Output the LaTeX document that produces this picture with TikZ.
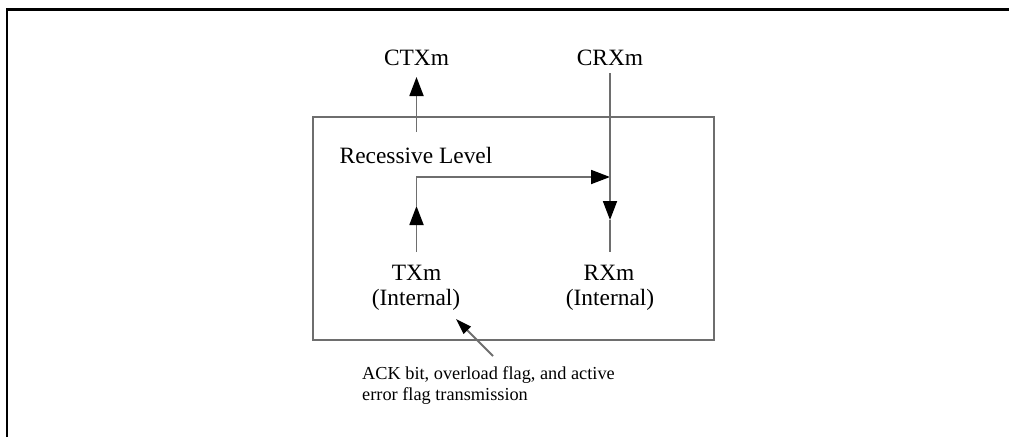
\documentclass[tikz,border=0pt]{standalone}
\usepackage{fontspec}
\setmainfont{Liberation Serif}
\usetikzlibrary{arrows.meta}
\definecolor{wiregray}{HTML}{6E6E6E}
\begin{document}
\begin{tikzpicture}[x=1pt,y=-1pt,
  frame/.style={draw=black,line width=2.5pt},
  wire/.style={draw=wiregray,line width=1.8pt},
  head/.tip={Triangle[length=19pt,width=14pt,color=black]},
  smallhead/.tip={Triangle[length=16pt,width=10pt,color=black]},
  lbl/.style={inner sep=0pt,font=\fontsize{23.4}{28}\selectfont},
  note/.style={inner sep=0pt,align=left,font=\fontsize{18.3}{21.5}\selectfont}]
\useasboundingbox (0,0) rectangle (1009,437);

% outer frame (open on the right and bottom)
\draw[frame] (7,437) -- (7,9.5) -- (1009,9.5);

% block outline
\node[draw=wiregray,line width=1.8pt,minimum width=401pt,minimum height=223pt,inner sep=0pt]
  (blk) at (513.5,228.5) {};

% labels
\node[lbl,anchor=base] (ctx) at (416.5,65) {CTXm};
\node[lbl,anchor=base] (crx) at (610,65) {CRXm};
\node[lbl,anchor=base] (rec) at (416,163) {Recessive Level};
\node[lbl,anchor=base] (tx)  at (416.5,280) {TXm};
\node[lbl,anchor=base] (txi) at (416,305) {(Internal)};
\node[lbl,anchor=base] (rx)  at (609,280) {RXm};
\node[lbl,anchor=base] (rxi) at (610,305) {(Internal)};
% base anchor of a two-line node sits on the last line
\node[note,anchor=base west] (ack) at (362,400.5)
  {ACK bit, overload flag, and active\\error flag transmission};

% wiring points
\coordinate (ctxfoot) at (416.5,132);
\coordinate (ctxtip)  at (416.5,77);
\coordinate (txtop)   at (416.5,252);
\coordinate (txup)    at (416.5,206);
\coordinate (bend)    at (416.5,177);
\coordinate (join)    at (610,177);
\coordinate (crtop)   at (610,73);
\coordinate (crdown)  at (610,220);
\coordinate (rxtop)   at (610,252);
\coordinate (acktail) at (493,356);
\coordinate (acktip)  at (456,319);

% connectors
\draw[wire,-head] (ctxfoot) -- (ctxtip);
\draw[wire,-head] (txtop) -- (txup);
\draw[wire,-head] (txup) -- (bend) -- (join);
\draw[wire,-head] (crtop) -- (crdown);
\draw[wire] (crdown) -- (rxtop);
\draw[wire,-smallhead] (acktail) -- (acktip);
\end{tikzpicture}
\end{document}
